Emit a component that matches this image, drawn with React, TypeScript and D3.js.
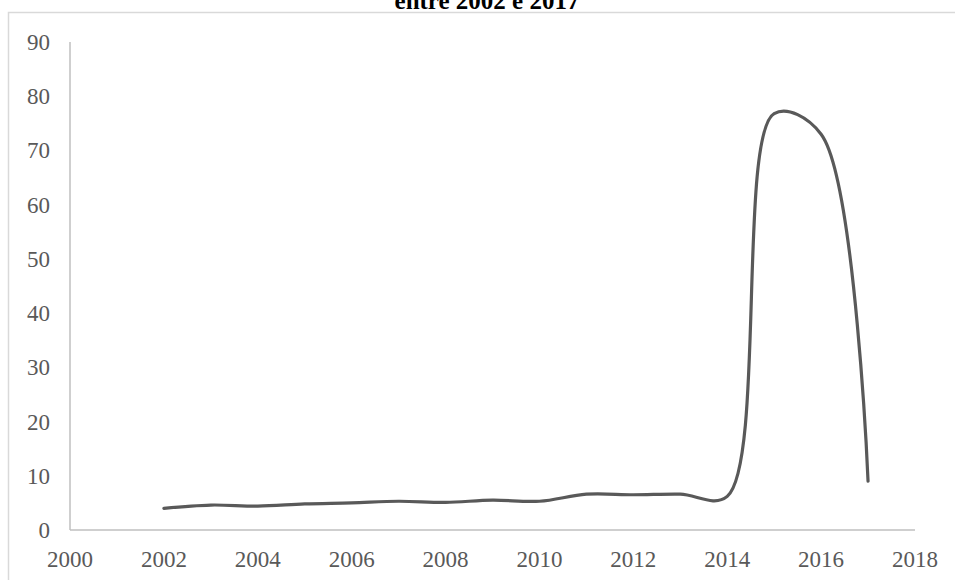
import React from "react";
import * as d3 from "d3";

const years = [2002, 2003, 2004, 2005, 2006, 2007, 2008, 2009, 2010, 2011, 2012, 2013, 2014, 2015, 2016, 2017];
const values = [4.0, 4.6, 4.4, 4.8, 5.0, 5.3, 5.1, 5.5, 5.3, 6.6, 6.5, 6.6, 6.2, 76.8, 73.0, 9.0];
const xTicks = [2000, 2002, 2004, 2006, 2008, 2010, 2012, 2014, 2016, 2018];
const yTicks = [0, 10, 20, 30, 40, 50, 60, 70, 80, 90];
const titleText = "entre 2002 e 2017";

const W = 955;
const H = 580;
const font = "'Liberation Serif', 'Times New Roman', serif";

export default function App() {
  const x = d3.scaleLinear().domain([2000, 2018]).range([70, 915]);
  const y = d3.scaleLinear().domain([0, 90]).range([530, 42]);

  const pts = years.map((yr, i) => [yr, values[i]] as [number, number]);
  const line = d3
    .line<[number, number]>()
    .x((d) => x(d[0]))
    .y((d) => y(d[1]))
    .curve(d3.curveCatmullRom.alpha(0.5));

  return (
    <svg
      width={W}
      height={H}
      style={{ position: "absolute", left: 0, top: 0, background: "#fff" }}
    >
      {/* chart frame, clipped by the window on the right and bottom */}
      <rect x={8.5} y={12.5} width={W + 20} height={H + 20} fill="#fff" stroke="#d9d9d9" strokeWidth={1.5} />

      {/* title sits mostly above the page top, as in the reference */}
      <text
        x={487}
        y={9}
        textAnchor="middle"
        fontFamily={font}
        fontWeight="bold"
        fontSize={25}
        fill="#000"
      >
        {titleText}
      </text>

      {/* axes */}
      <line x1={x(2000)} x2={x(2000)} y1={y(90)} y2={y(0)} stroke="#bfbfbf" strokeWidth={1.5} />
      <line x1={x(2000)} x2={x(2018)} y1={y(0)} y2={y(0)} stroke="#bfbfbf" strokeWidth={1.5} />

      {yTicks.map((t) => (
        <text
          key={t}
          x={50}
          y={y(t) + 8}
          textAnchor="end"
          fontFamily={font}
          fontSize={23}
          fill="#595959"
        >
          {t}
        </text>
      ))}

      {xTicks.map((t) => (
        <text
          key={t}
          x={x(t)}
          y={567}
          textAnchor="middle"
          fontFamily={font}
          fontSize={23}
          fill="#595959"
        >
          {t}
        </text>
      ))}

      <path
        d={line(pts) ?? ""}
        fill="none"
        stroke="#595959"
        strokeWidth={3.2}
        strokeLinecap="round"
        strokeLinejoin="round"
      />
    </svg>
  );
}
